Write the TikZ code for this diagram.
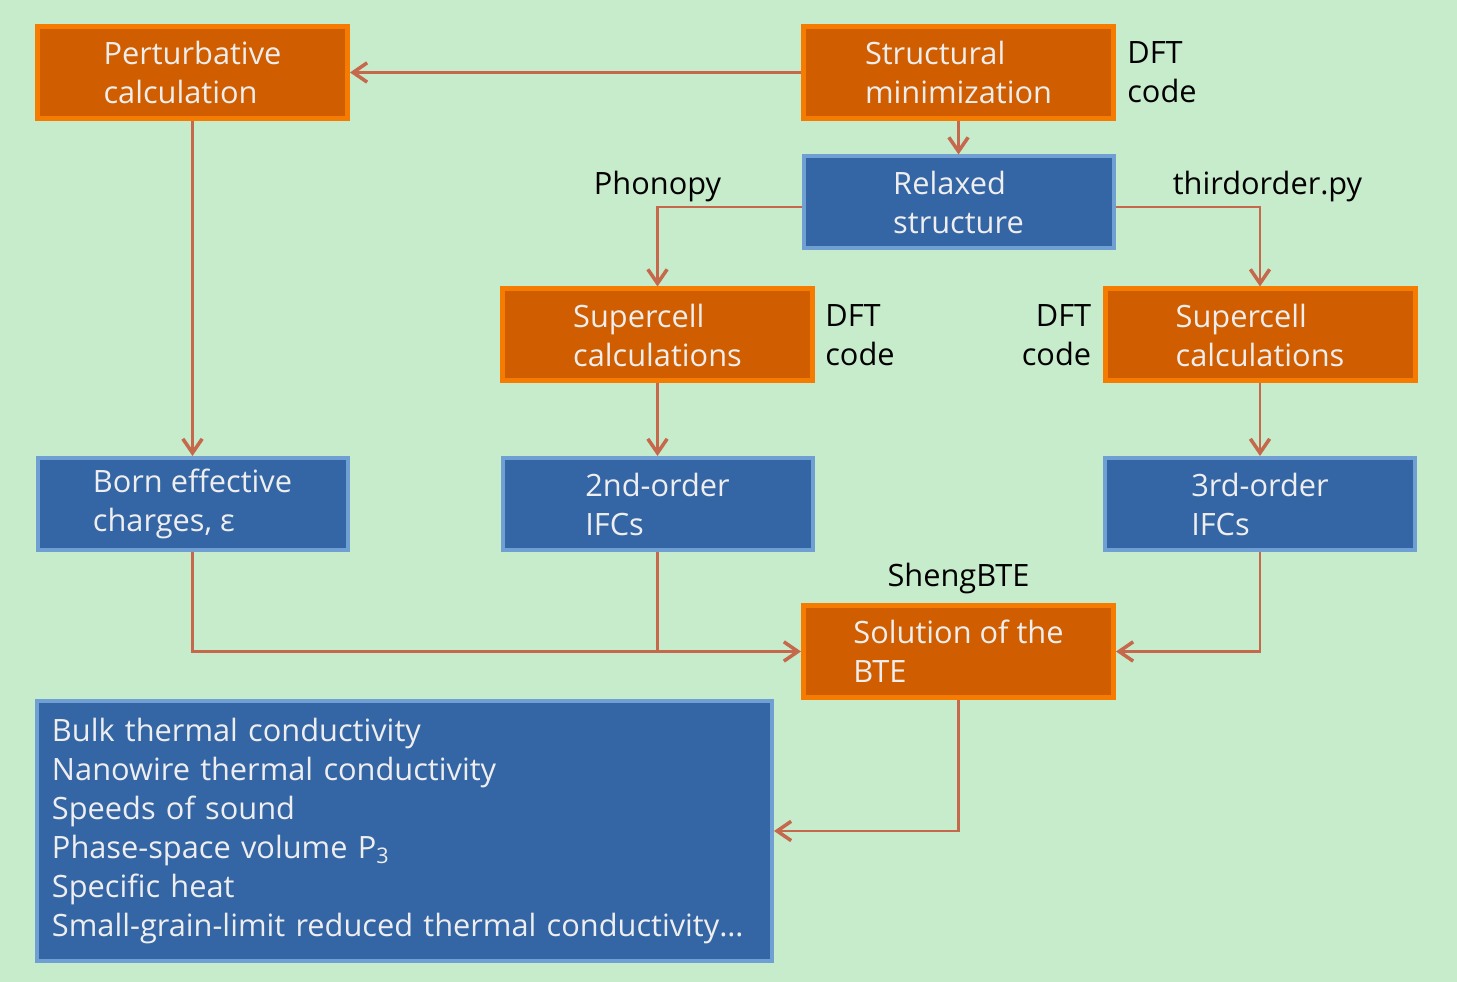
\documentclass[tikz,border=0pt]{standalone}
\usepackage{fontspec}
\setmainfont{Open Sans}
\usepackage{tikz}
\usetikzlibrary{positioning,arrows.meta}

\definecolor{bgcol}{HTML}{C7ECCC}
\definecolor{orfill}{HTML}{D05E00}
\definecolor{ordraw}{HTML}{F57C00}
\definecolor{blfill}{HTML}{3465A5}
\definecolor{bldraw}{HTML}{6F9FD3}
\definecolor{linkcol}{HTML}{C5684C}
\definecolor{boxtext}{HTML}{EEEEEE}

\begin{document}
\begin{tikzpicture}[font=\fontsize{17.5}{22.2}\selectfont,
    box/.style={rectangle, align=left, minimum width=6.2cm, minimum height=1.84cm,
        line width=0.1cm, text=boxtext},
    calc/.style={box, fill=orfill, draw=ordraw},
    data/.style={box, fill=blfill, draw=bldraw, line width=0.08cm},
    note/.style={inner sep=0pt, text=black},
    link/.style={draw=linkcol, line width=0.045cm},
    arr/.style={link, -{Straight Barb[length=8pt,width=11pt,line width=2pt]}}]
        \fill[bgcol] (0,0) rectangle (29.14,19.64);

        \node[calc] (perturbative) at (3.85,18.19) {Perturbative\\calculation};
        \node[calc] (structural) at (19.17,18.19) {Structural\\minimization};
        \node[data] (relaxed) at (19.17,15.59) {Relaxed\\structure};
        \node[calc] (supL) at (13.15,12.94) {Supercell\\calculations};
        \node[calc] (supR) at (25.2,12.94) {Supercell\\calculations};
        \node[data] (born) at (3.85,9.56) {Born effective\\charges, ε};
        \node[data] (second) at (13.15,9.56) {2nd-order\\IFCs};
        \node[data] (third) at (25.2,9.56) {3rd-order\\IFCs};
        \node[calc] (solution) at (19.17,6.61) {Solution of the\\BTE};
        \node[data, minimum width=0, minimum height=5.2cm, text width=14.1cm,
            inner xsep=0.3cm] (results) at (8.09,3.02)
            {Bulk thermal conductivity\\Nanowire thermal conductivity\\Speeds of sound\\
             Phase-space volume P\textsubscript{3}\\Specific heat\\
             Small-grain-limit reduced thermal conductivity\dots};

        \node[note, align=left, right=0.22cm of structural] (dftA) {DFT\\code};
        \node[note, align=left, right=0.2cm of supL] (dftB) {DFT\\code};
        \node[note, align=right, left=0.22cm of supR] (dftC) {DFT\\code};
        \node[note, above=0.18cm of solution] (sheng) {ShengBTE};

        \draw[arr] (structural) -- (perturbative);
        \draw[arr] (structural) -- (relaxed);
        \draw[arr] ([yshift=-0.09cm]relaxed.west) -| coordinate[pos=0.5] (cornerL) (supL);
        \draw[arr] ([yshift=-0.09cm]relaxed.east) -| coordinate[pos=0.5] (cornerR) (supR);
        \node[note, above=0.1cm of cornerL] (phonopy) {Phonopy};
        \node[note, above right=0.1cm and -1.75cm of cornerR] (thirdorder) {thirdorder.py};
        \draw[arr] (perturbative) -- (born);
        \draw[arr] (supL) -- (second);
        \draw[arr] (supR) -- (third);
        \draw[arr] (born) |- (solution);
        \draw[link] (second.south) -- (second.south |- solution.west);
        \draw[arr] (third) |- (solution);
        \draw[arr] (solution) |- (results);
    \end{tikzpicture}
\end{document}
